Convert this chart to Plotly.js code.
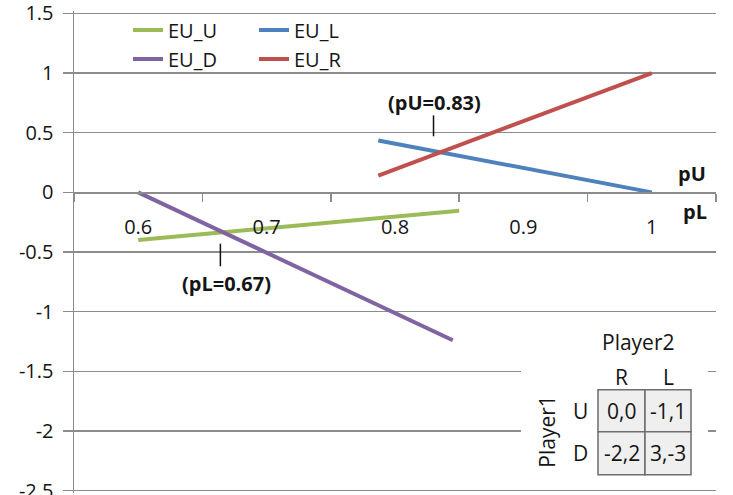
<!DOCTYPE html>
<html>
<head>
<meta charset="utf-8">
<script src="https://cdn.plot.ly/plotly-3.0.1.min.js"></script>
<style>
html,body{margin:0;padding:0;background:#fff;}
#chart{width:733px;height:495px;}
</style>
</head>
<body>
<div id="chart"></div>
<script>
// ---- data ----
const euU_x = [0.6, 0.85];
const euU_y = [-0.4, -0.155];
const euD_x = [0.6, 0.845];
const euD_y = [0.0, -1.24];
const euL_x = [0.787, 1.0];
const euL_y = [0.435, 0.0];
const euR_x = [0.787, 1.0];
const euR_y = [0.14, 1.0];

const xTickVals = [0.6, 0.7, 0.8, 0.9, 1.0];
const xTickText = ['0.6', '0.7', '0.8', '0.9', '1'];
const yTickVals = [-2.5, -2, -1.5, -1, -0.5, 0, 0.5, 1, 1.5];
const yTickText = ['-2.5', '-2', '-1.5', '-1', '-0.5', '0', '0.5', '1', '1.5'];

const eqLabels = ['(pU=0.83)', '(pL=0.67)'];
const eqMarkX = [0.83, 0.664];

const payoffRows = ['U', 'D'];
const payoffCols = ['R', 'L'];
const payoffCells = [['0,0', '-1,1'], ['-2,2', '3,-3']];

// ---- styling / layout ----
const FONT = 'Open Sans, Lato, sans-serif';
const TXT = '#151515';
const GRID = '#8c8c8c';
const C_U = '#9BBB59', C_L = '#4F81BD', C_D = '#8064A2', C_R = '#C0504D';

// visual plot frame (y 1.5 at px 13, y -2.5 at px 491); y range padded slightly so edge gridlines draw
const YPAD = 0.02;
const PX0 = 74, PW = 642, FY0 = 13, FH = 478;
const padPx = YPAD / 4 * FH;
const PY0 = FY0 - padPx, PH = FH + 2 * padPx;
const px = x => (x - PX0) / PW;
const py = y => (PY0 + PH - y) / PH;

const traces = [
  {x: euU_x, y: euU_y, name: 'EU_U', mode: 'lines', line: {color: C_U, width: 4}, legend: 'legend'},
  {x: euL_x, y: euL_y, name: 'EU_L', mode: 'lines', line: {color: C_L, width: 4}, legend: 'legend2'},
  {x: euD_x, y: euD_y, name: 'EU_D', mode: 'lines', line: {color: C_D, width: 4}, legend: 'legend'},
  {x: euR_x, y: euR_y, name: 'EU_R', mode: 'lines', line: {color: C_R, width: 4}, legend: 'legend2'}
];

const shapes = [];
const annotations = [];
function note(x, y, text, size, extra) {
  annotations.push(Object.assign({xref: 'paper', yref: 'paper', x: px(x), y: py(y), text: text,
    showarrow: false, xanchor: 'center', yanchor: 'middle',
    font: {family: FONT, size: size, color: TXT}}, extra || {}));
}

// equilibrium markers and labels
const eqMarkY = [[0.47, 0.645], [-0.43, -0.62]];
const eqLabelPos = [[0.831, 0.754], [0.669, -0.762]];
for (let i = 0; i < eqLabels.length; i++) {
  shapes.push({type: 'line', xref: 'x', yref: 'y', x0: eqMarkX[i], x1: eqMarkX[i],
    y0: eqMarkY[i][0], y1: eqMarkY[i][1], line: {color: '#111', width: 1.5}, layer: 'above'});
  annotations.push({xref: 'x', yref: 'y', x: eqLabelPos[i][0], y: eqLabelPos[i][1],
    xanchor: 'center', yanchor: 'middle',
    text: '<b>' + eqLabels[i] + '</b>', showarrow: false, font: {family: FONT, size: 20, color: TXT}});
}
// axis names
note(692, 173, '<b>pU</b>', 20);
note(695, 211, '<b>pL</b>', 20);

// payoff table
shapes.push({type: 'rect', xref: 'paper', yref: 'paper', x0: px(521), x1: px(708), y0: py(484), y1: py(325),
  fillcolor: '#ffffff', line: {width: 0}, layer: 'above'});
const colX = [[598, 645], [645, 691]];
const rowY = [[390, 432], [432, 475]];
for (let r = 0; r < payoffRows.length; r++) {
  for (let c = 0; c < payoffCols.length; c++) {
    shapes.push({type: 'rect', xref: 'paper', yref: 'paper',
      x0: px(colX[c][0]), x1: px(colX[c][1]), y0: py(rowY[r][1]), y1: py(rowY[r][0]),
      fillcolor: '#efefef', line: {color: '#6e6e6e', width: 1.5}, layer: 'above'});
    note((colX[c][0] + colX[c][1]) / 2, (rowY[r][0] + rowY[r][1]) / 2, payoffCells[r][c], 21);
  }
  note(580, (rowY[r][0] + rowY[r][1]) / 2, payoffRows[r], 21);
}
for (let c = 0; c < payoffCols.length; c++) {
  note((colX[c][0] + colX[c][1]) / 2, 377, payoffCols[c], 21);
}
note(638, 342, 'Player2', 21);
note(547, 432, 'Player1', 21, {textangle: -90});

const legendBase = {
  yanchor: 'top', xanchor: 'left', orientation: 'v', bgcolor: 'rgba(0,0,0,0)',
  font: {family: FONT, size: 20, color: TXT}, tracegroupgap: 0, itemwidth: 30
};

const layout = {
  width: 733, height: 495,
  margin: {l: PX0, r: 733 - PX0 - PW, t: PY0, b: 495 - PY0 - PH, pad: 0},
  paper_bgcolor: '#ffffff', plot_bgcolor: '#ffffff',
  font: {family: FONT, size: 20, color: TXT},
  showlegend: true,
  legend: Object.assign({x: px(128), y: py(10)}, legendBase),
  legend2: Object.assign({x: px(254), y: py(10)}, legendBase),
  xaxis: {
    range: [0.55, 1.05], anchor: 'free', position: (2.5 + YPAD) / (4 + 2 * YPAD),
    tickmode: 'array', tickvals: xTickVals, ticktext: xTickText,
    ticks: '', showgrid: false, zeroline: false,
    showline: true, linecolor: GRID, linewidth: 1.5,
    ticklabelstandoff: 16,
    tickfont: {family: FONT, size: 20, color: TXT},
    minor: {tickmode: 'linear', tick0: 0.55, dtick: 0.1, ticks: 'outside', ticklen: 8,
      tickwidth: 1.5, tickcolor: GRID, showgrid: false},
    fixedrange: true
  },
  yaxis: {
    range: [-2.5 - YPAD, 1.5 + YPAD], tickmode: 'array', tickvals: yTickVals, ticktext: yTickText,
    ticks: 'outside', ticklen: 10, tickwidth: 1.5, tickcolor: GRID,
    showgrid: true, gridcolor: GRID, gridwidth: 1.5, zeroline: false,
    showline: true, linecolor: GRID, linewidth: 1.5,
    ticklabelstandoff: 5, ticklabeloverflow: 'allow',
    tickfont: {family: FONT, size: 20, color: TXT},
    fixedrange: true
  },
  shapes: shapes,
  annotations: annotations
};

Plotly.newPlot('chart', traces, layout, {displayModeBar: false, staticPlot: true});
</script>
</body>
</html>
